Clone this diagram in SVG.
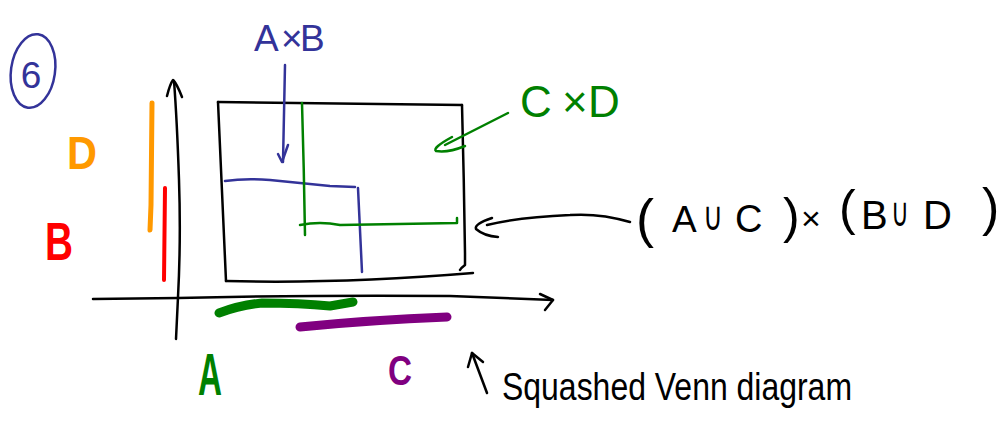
<svg xmlns="http://www.w3.org/2000/svg" width="1000" height="421" viewBox="0 0 1000 421">
<style>
.ink{fill:none;stroke-linecap:round;stroke-linejoin:round}
.k{stroke:#000;stroke-width:2.5}
.b{stroke:#333399;stroke-width:2.5}
.g{stroke:#008000;stroke-width:2.5}
.hand{font-family:"Liberation Sans","DejaVu Sans",sans-serif}
.bold{font-family:"Liberation Sans","DejaVu Sans",sans-serif;font-weight:bold}
.cup{font-family:"DejaVu Sans",sans-serif;font-size:40px}
</style>
<rect width="1000" height="421" fill="#fff"/>

<g id="number-6">
<ellipse cx="33" cy="71" rx="22" ry="37" class="ink b" transform="rotate(8 33 71)"/>
<text x="31" y="88" font-size="37" fill="#333399" text-anchor="middle" class="hand">6</text>
</g>

<g id="label-AxB">
<text x="254 281 300" y="51" font-size="37" fill="#333399" class="hand">A×B</text>
</g>

<g id="label-D">
<text x="67" y="169" font-size="46" fill="#ff9900" class="bold" textLength="30" lengthAdjust="spacingAndGlyphs">D</text>
</g>
<g id="label-B">
<text x="45" y="260" font-size="54" fill="#ff0000" class="bold" textLength="28" lengthAdjust="spacingAndGlyphs">B</text>
</g>
<g id="label-A">
<text x="198" y="395" font-size="60" fill="#008000" class="bold" textLength="24" lengthAdjust="spacingAndGlyphs">A</text>
</g>
<g id="label-C">
<text x="388" y="385" font-size="42" fill="#800080" class="bold" textLength="24" lengthAdjust="spacingAndGlyphs">C</text>
</g>

<g id="set-bars">
<path d="M152,103 L151,205 L150,230" class="ink" stroke="#ff9900" stroke-width="5"/>
<path d="M165,188 L164,280" class="ink" stroke="#ff0000" stroke-width="4"/>
<path d="M219,313 Q240,305 262,303 Q300,303 330,306 L353,302" class="ink" stroke="#008000" stroke-width="9"/>
<path d="M300,327 Q370,320 447,317" class="ink" stroke="#800080" stroke-width="9"/>
</g>

<g id="axes">
<path d="M176,339 L178,297 Q181,240 179,180 Q177,120 174,81" class="ink k"/>
<path d="M167,96 Q170,84 173,80 Q177,84 182,97" class="ink k"/>
<path d="M93,299 L178,298 Q300,295 450,296 L553,300" class="ink k"/>
<path d="M540,294 L553,300 L545,310" class="ink k"/>
</g>

<g id="product-rectangle">
<path d="M218,102 L462,105" class="ink k" stroke-width="3"/>
<path d="M218,102 Q222,190 226,281" class="ink k" stroke-width="3"/>
<path d="M226,281 Q340,284 473,273" class="ink k" stroke-width="3"/>
<path d="M462,105 Q464,180 465,253 L465,265 Q461,268 460,270" class="ink k"/>
</g>

<g id="AxB-region">
<path d="M225,181 Q245,178 270,180 Q300,183 330,186 L355,187" class="ink b" stroke-width="3"/>
<path d="M358,188 Q360,230 362,272" class="ink b"/>
</g>

<g id="CxD-region">
<path d="M302,103 Q304,170 305,235" class="ink g"/>
<path d="M300,225 Q320,221 340,225 L457,223 L457,218" class="ink g" stroke-width="3"/>
</g>

<g id="label-CxD">
<text x="520 562 588" y="117" font-size="44" fill="#008000" class="hand">C×D</text>
</g>

<g id="label-union-product">
<text x="636" y="237" font-size="54" fill="#000" class="hand">(</text>
<text x="672" y="232" font-size="37" fill="#000" class="hand">A</text>
<text x="703" y="230" fill="#000" class="cup" textLength="20" lengthAdjust="spacingAndGlyphs">∪</text>
<text x="735" y="232" font-size="38" fill="#000" class="hand">C</text>
<text x="783" y="233" font-size="50" fill="#000" class="hand">)</text>
<text x="801" y="230" font-size="34" fill="#000" class="hand">×</text>
<text x="839" y="225" font-size="50" fill="#000" class="hand">(</text>
<text x="861" y="229" font-size="40" fill="#000" class="hand">B</text>
<text x="891" y="226" fill="#000" class="cup" textLength="18" lengthAdjust="spacingAndGlyphs">∪</text>
<text x="923" y="229" font-size="40" fill="#000" class="hand">D</text>
<text x="982" y="225" font-size="52" fill="#000" class="hand">)</text>
</g>

<g id="label-squashed">
<text x="502" y="400" font-size="38" fill="#000" class="hand" textLength="350" lengthAdjust="spacingAndGlyphs">Squashed Venn diagram</text>
</g>

<g id="connectors">
<path d="M285,65 Q284,120 283,162" class="ink b"/>
<path d="M278,154 L282,162 L288,145" class="ink b"/>
<path d="M508,113 L445,145" class="ink g" stroke-width="3.5"/>
<path d="M452,137 Q432,148 436,151 Q448,153 465,146" class="ink g" stroke-width="3.5"/>
<path d="M630,222 Q600,213 570,215 Q520,217 487,225" class="ink k" stroke-width="3"/>
<path d="M492,218 Q474,224 476,229 Q484,236 498,237" class="ink k" stroke-width="3"/>
<path d="M487,393 L472,353" class="ink k"/>
<path d="M468,367 L472,353 L483,362" class="ink k"/>
</g>
</svg>
